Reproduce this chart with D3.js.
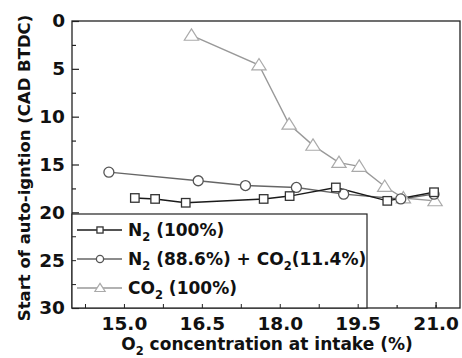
<!DOCTYPE html>
<html lang="en">
<head>
<meta charset="utf-8">
<title>Start of auto-ignition</title>
<script src="https://d3js.org/d3.v7.min.js"></script>
<style>
  body { margin: 0; background: #fff; }
  text { font-family: "DejaVu Sans", Verdana, sans-serif; font-weight: bold; fill: #111; }
</style>
</head>
<body>
<svg id="chart"></svg>
<script>
var w = 462, h = 358;
var plot = {left: 72, right: 460, top: 21, bottom: 308};

// data: O2 % vs start of auto-ignition (CAD BTDC)
var n2X   = [15.21, 15.60, 16.19, 17.69, 18.19, 19.08, 20.07, 20.97];
var n2Y   = [18.5, 18.6, 19.0, 18.6, 18.3, 17.4, 18.8, 17.9];
var mixX  = [14.71, 16.43, 17.34, 18.32, 19.23, 20.33, 20.97];
var mixY  = [15.8, 16.7, 17.2, 17.4, 18.1, 18.6, 18.1];
var co2X  = [16.30, 17.60, 18.18, 18.64, 19.14, 19.53, 20.02, 20.38, 20.99];
var co2Y  = [1.5, 4.6, 10.8, 13.0, 14.8, 15.2, 17.3, 18.5, 18.8];
var xTicks = [15.0, 16.5, 18.0, 19.5, 21.0];
var yTicks = [0, 5, 10, 15, 20, 25, 30];

var series = [
  {name: 'n2', x: n2X, y: n2Y, shape: 'square', line: '#1a1a1a', stroke: '#333'},
  {name: 'mix', x: mixX, y: mixY, shape: 'circle', line: '#666', stroke: '#555'},
  {name: 'co2', x: co2X, y: co2Y, shape: 'triangle', line: '#999', stroke: '#aaa'}
];

var svg = d3.select('#chart').attr('width', w).attr('height', h);

var x = d3.scaleLinear().domain([14.0, 21.47]).range([plot.left, plot.right]);
var y = d3.scaleLinear().domain([0, 30]).range([plot.top, plot.bottom]);

// minor ticks
var xMinor = d3.range(14.25, 21.4, 0.75);
var yMinor = d3.range(2.5, 30, 5);

svg.append('g').attr('transform', 'translate(0,' + plot.bottom + ')')
  .call(d3.axisBottom(x).tickValues(xMinor).tickSize(-3).tickFormat(''))
  .call(g => g.select('.domain').remove());
svg.append('g').attr('transform', 'translate(' + plot.left + ',0)')
  .call(d3.axisLeft(y).tickValues(yMinor).tickSize(-4).tickFormat(''))
  .call(g => g.select('.domain').remove());

var xAxis = svg.append('g').attr('transform', 'translate(0,' + plot.bottom + ')')
  .call(d3.axisBottom(x).tickValues(xTicks).tickSize(-6).tickFormat(d3.format('.1f')));
xAxis.select('.domain').remove();
xAxis.selectAll('text').style('font-size', '18.5px').attr('dy', '0.71em').attr('y', 9);

var yAxis = svg.append('g').attr('transform', 'translate(' + plot.left + ',0)')
  .call(d3.axisLeft(y).tickValues(yTicks).tickSize(-7));
yAxis.select('.domain').remove();
yAxis.selectAll('text').style('font-size', '18.5px').attr('x', -7);
svg.selectAll('.tick line').attr('stroke', '#222').attr('stroke-width', 1.2);

// frame
svg.append('rect').attr('x', plot.left).attr('y', plot.top)
  .attr('width', plot.right - plot.left).attr('height', plot.bottom - plot.top)
  .attr('fill', 'none').attr('stroke', '#222').attr('stroke-width', 1.3);

function marker(g, shape, cx, cy, s, stroke) {
  if (shape === 'square') {
    g.append('rect').attr('x', cx - s * 0.85).attr('y', cy - s * 0.85)
      .attr('width', s * 1.7).attr('height', s * 1.7)
      .attr('fill', '#fff').attr('stroke', stroke).attr('stroke-width', 1.3);
  } else if (shape === 'circle') {
    g.append('circle').attr('cx', cx).attr('cy', cy).attr('r', s)
      .attr('fill', '#fff').attr('stroke', stroke).attr('stroke-width', 1.3);
  } else {
    var t = s * 1.3;
    g.append('path')
      .attr('d', 'M' + cx + ',' + (cy - t) + 'L' + (cx + t * 1.1) + ',' + (cy + t * 0.75) + 'L' + (cx - t * 1.1) + ',' + (cy + t * 0.75) + 'Z')
      .attr('fill', '#fff').attr('stroke', stroke).attr('stroke-width', 1.2);
  }
}

var line = d3.line().x(d => x(d[0])).y(d => y(d[1]));

// co2 first, then mix, then n2 on top
var order = [2, 1, 0];
order.forEach(function(i) {
  var s = series[i];
  var pts = s.x.map((v, j) => [v, s.y[j]]);
  svg.append('path').datum(pts).attr('d', line)
    .attr('fill', 'none').attr('stroke', s.line).attr('stroke-width', 1.4);
});
order.forEach(function(i) {
  var s = series[i];
  var g = svg.append('g');
  s.x.forEach(function(v, j) {
    marker(g, s.shape, x(v), y(s.y[j]), 5, s.stroke);
  });
});

// text with subscripts: parts = [[str, isSub], ...]
function richText(t, parts, size, subSize) {
  var off = 0;
  parts.forEach(function(p) {
    var target = p[1] ? 5 : 0;
    t.append('tspan').text(p[0])
      .style('font-size', p[1] ? subSize : size)
      .attr('dy', target - off);
    off = target;
  });
}

// legend
var lg = svg.append('g');
lg.append('rect').attr('x', plot.left).attr('y', 214)
  .attr('width', 367 - plot.left).attr('height', plot.bottom - 214)
  .attr('fill', '#fff').attr('stroke', '#222').attr('stroke-width', 1.2);
// axis ticks stay visible inside the legend box
var lgTickG = svg.append('g').attr('transform', 'translate(' + plot.left + ',0)')
  .call(d3.axisLeft(y).tickValues([22.5, 25, 27.5]).tickSize(-4).tickFormat(''));
lgTickG.select('.domain').remove();
lgTickG.selectAll('line').attr('stroke', '#222');
var xlg = svg.append('g').attr('transform', 'translate(0,' + plot.bottom + ')')
  .call(d3.axisBottom(x).tickValues([14.25, 15.0, 15.75, 16.5, 17.25, 18.0, 18.75, 19.5]).tickSize(-4).tickFormat(''));
xlg.select('.domain').remove();
xlg.selectAll('line').attr('stroke', '#222');

var legendRows = [
  {s: 0, y: 230, parts: [['N', 0], ['2', 1], [' (100%)', 0]]},
  {s: 1, y: 259, parts: [['N', 0], ['2', 1], [' (88.6%) + CO', 0], ['2', 1], ['(11.4%)', 0]]},
  {s: 2, y: 288, parts: [['CO', 0], ['2', 1], [' (100%)', 0]]}
];
legendRows.forEach(function(r) {
  var s = series[r.s];
  lg.append('line').attr('x1', 77).attr('x2', 122).attr('y1', r.y).attr('y2', r.y)
    .attr('stroke', s.line).attr('stroke-width', 1.4);
  marker(lg, s.shape, 100, r.y, 3.6, s.stroke);
  var t = lg.append('text').attr('x', 128).attr('y', r.y + 6);
  richText(t, r.parts, '17px', '11.5px');
});

// axis titles
var xt = svg.append('text').attr('x', 267).attr('y', 350).attr('text-anchor', 'middle');
richText(xt, [['O', 0], ['2', 1], [' concentration at intake (%)', 0]], '17px', '11.5px');

svg.append('text').attr('transform', 'translate(30,168) rotate(-90)')
  .attr('text-anchor', 'middle').style('font-size', '16.5px')
  .text('Start of auto-igntion (CAD BTDC)');
</script>
</body>
</html>
